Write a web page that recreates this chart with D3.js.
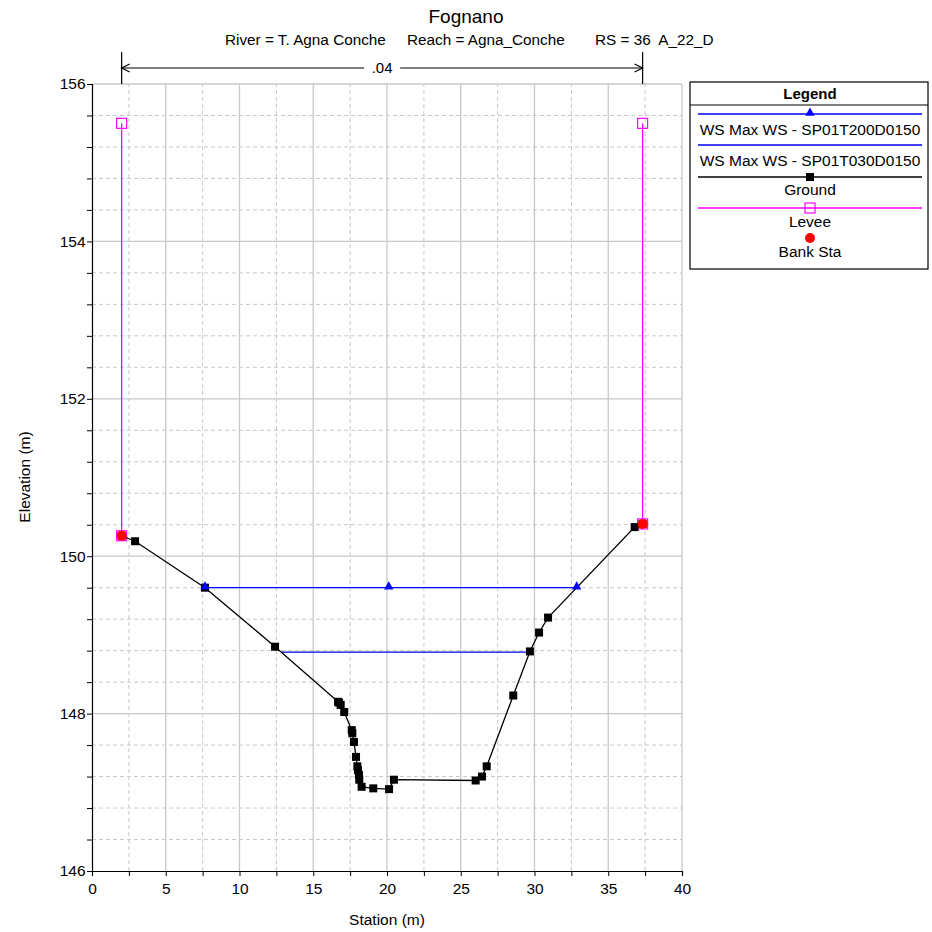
<!DOCTYPE html>
<html><head><meta charset="utf-8">
<script src="https://cdn.jsdelivr.net/npm/d3@7"></script>
<style>body{margin:0;background:#fff}svg{display:block}text{font-family:"Liberation Sans",Arial,sans-serif}</style>
</head><body>
<svg id="c" width="932" height="932"></svg>
<script>
// ---- data ----
const title = "Fognano";
const subtitleParts = ["River = T. Agna Conche", "Reach = Agna_Conche", "RS = 36  A_22_D"];
const manningN = ".04";
const groundStation = [2.01, 2.92, 7.66, 12.41, 16.68, 16.75, 16.86, 17.10, 17.61, 17.65, 17.76, 17.90, 17.99, 18.03, 18.10, 18.12, 18.28, 19.07, 20.14, 20.47, 26.01, 26.44, 26.76, 28.56, 29.69, 30.31, 30.92, 36.79, 37.33];
const groundElev    = [150.26, 150.19, 149.60, 148.85, 148.15, 148.14, 148.11, 148.02, 147.79, 147.75, 147.64, 147.45, 147.33, 147.28, 147.22, 147.16, 147.07, 147.05, 147.04, 147.16, 147.15, 147.20, 147.33, 148.23, 148.79, 149.03, 149.22, 150.37, 150.41];
const leveeLeftStation = [2.01, 2.01];
const leveeLeftElev = [155.50, 150.26];
const leveeRightStation = [37.33, 37.33];
const leveeRightElev = [155.50, 150.41];
const bankStation = [2.01, 37.33];
const bankElev = [150.26, 150.41];
const ws200Station = [7.66, 20.12, 32.86];
const ws200Elev = [149.60, 149.60, 149.60];
const ws030Station = [12.84, 29.69];
const ws030Elev = [148.78, 148.78];
const xTicks = [0, 5, 10, 15, 20, 25, 30, 35, 40];
const yTicks = [146, 148, 150, 152, 154, 156];
const legendItems = ["WS Max WS - SP01T200D0150", "WS Max WS - SP01T030D0150", "Ground", "Levee", "Bank Sta"];

// ---- chart ----
const svg = d3.select("#c");
const x = d3.scaleLinear().domain([0, 40]).range([92, 682]);
const y = d3.scaleLinear().domain([146, 156]).range([871, 84]);
const GRID = "#c8c8c8";

// grid
const g = svg.append("g");
const xMinor = d3.range(0, 40.01, 2.5);
const yMinor = d3.range(146, 156.01, 0.4).map(v => +v.toFixed(2));
xMinor.forEach(v => {
  const major = Math.abs(v % 5) < 1e-6;
  if (v === 0) return;
  g.append("line").attr("x1", x(v)).attr("x2", x(v)).attr("y1", y(146)).attr("y2", y(156))
    .attr("stroke", GRID).attr("stroke-width", major ? 1.3 : 1)
    .attr("stroke-dasharray", major ? null : "4,3");
});
yMinor.forEach(v => {
  const major = Math.abs(v - Math.round(v)) < 1e-6 && Math.round(v) % 2 === 0;
  if (v === 146) return;
  g.append("line").attr("x1", x(0)).attr("x2", x(40)).attr("y1", y(v)).attr("y2", y(v))
    .attr("stroke", GRID).attr("stroke-width", major ? 1.3 : 1)
    .attr("stroke-dasharray", major ? null : "4,3");
});

// axes
const xAxis = d3.axisBottom(x).tickValues(xMinor).tickSize(5).tickFormat(d => xTicks.includes(d) ? d : "");
const yAxis = d3.axisLeft(y).tickValues(yMinor).tickSize(5).tickFormat(d => yTicks.includes(d) ? d : "");
const ax = svg.append("g").attr("transform", `translate(0,${y(146)})`).call(xAxis);
const ay = svg.append("g").attr("transform", `translate(${x(0)},0)`).call(yAxis);
[ax, ay].forEach(a => {
  a.select(".domain").attr("stroke", "#000").attr("stroke-width", 1.2);
  a.selectAll(".tick line").attr("stroke", "#000");
  a.selectAll("text").attr("font-size", 15.5).attr("fill", "#000").attr("font-family", "Liberation Sans, Arial, sans-serif");
});
ax.selectAll("text").attr("dy", "0.95em");
ay.selectAll("text").attr("dx", "0.1em");

// axis titles
svg.append("text").attr("x", 387).attr("y", 925).attr("text-anchor", "middle").attr("font-size", 15.5).text("Station (m)");
svg.append("text").attr("transform", "translate(30,477) rotate(-90)").attr("text-anchor", "middle").attr("font-size", 15.5).text("Elevation (m)");

// titles
svg.append("text").attr("x", 466).attr("y", 23).attr("text-anchor", "middle").attr("font-size", 19).text(title);
const subX = [225, 407, 595];
subtitleParts.forEach((t, i) => svg.append("text").attr("x", subX[i]).attr("y", 45).attr("font-size", 15.3)
  .style("white-space", "pre").text(t));

// n-value annotation
const ann = svg.append("g").attr("stroke", "#000").attr("fill", "none").attr("stroke-width", 1.2);
const xl = x(bankStation[0]), xr = x(bankStation[1]), ya = 68;
ann.append("line").attr("x1", xl).attr("x2", xl).attr("y1", 52).attr("y2", y(156));
ann.append("line").attr("x1", xr).attr("x2", xr).attr("y1", 52).attr("y2", y(156));
const mid = (xl + xr) / 2;
ann.append("line").attr("x1", xl).attr("x2", mid - 18).attr("y1", ya).attr("y2", ya);
ann.append("line").attr("x1", mid + 18).attr("x2", xr).attr("y1", ya).attr("y2", ya);
ann.append("path").attr("d", `M${xl + 8},${ya - 4}L${xl},${ya}L${xl + 8},${ya + 4}`);
ann.append("path").attr("d", `M${xr - 8},${ya - 4}L${xr},${ya}L${xr - 8},${ya + 4}`);
svg.append("text").attr("x", mid).attr("y", ya + 5).attr("text-anchor", "middle").attr("font-size", 15).text(manningN);

// series
const line = d3.line().x(d => x(d[0])).y(d => y(d[1]));
const zip = (a, b) => a.map((v, i) => [v, b[i]]);
const tri = d3.symbol().type(d3.symbolTriangle).size(38);

// levee
[zip(leveeLeftStation, leveeLeftElev), zip(leveeRightStation, leveeRightElev)].forEach(pts => {
  svg.append("path").attr("d", line(pts)).attr("stroke", "#ff00ff").attr("stroke-width", 1.3).attr("fill", "none");
  svg.selectAll(null).data(pts).enter().append("rect")
    .attr("x", d => x(d[0]) - 5).attr("y", d => y(d[1]) - 5).attr("width", 10).attr("height", 10)
    .attr("fill", "none").attr("stroke", "#ff00ff").attr("stroke-width", 1.2);
});

// WS lines
const ws200 = zip(ws200Station, ws200Elev);
const ws030 = zip(ws030Station, ws030Elev);
svg.append("path").attr("d", line(ws030)).attr("stroke", "#0000ff").attr("stroke-width", 1.3).attr("fill", "none");
svg.append("path").attr("d", line(ws200)).attr("stroke", "#0000ff").attr("stroke-width", 1.3).attr("fill", "none");

// ground
const ground = zip(groundStation, groundElev);
svg.append("path").attr("d", line(ground)).attr("stroke", "#000").attr("stroke-width", 1.3).attr("fill", "none");
svg.selectAll(null).data(ground).enter().append("rect")
  .attr("x", d => x(d[0]) - 4).attr("y", d => y(d[1]) - 4).attr("width", 8).attr("height", 8).attr("fill", "#000");

svg.selectAll(null).data(ws200).enter().append("path").attr("d", tri)
  .attr("transform", d => `translate(${x(d[0])},${y(d[1]) - 1})`).attr("fill", "#0000ff");

// bank stations
svg.selectAll(null).data(zip(bankStation, bankElev)).enter().append("circle")
  .attr("cx", d => x(d[0])).attr("cy", d => y(d[1])).attr("r", 5).attr("fill", "#ff0000");

// legend
const L = svg.append("g");
L.append("rect").attr("x", 690).attr("y", 82).attr("width", 238).attr("height", 187).attr("fill", "#fff").attr("stroke", "#000").attr("stroke-width", 1.2);
L.append("line").attr("x1", 690).attr("x2", 928).attr("y1", 105).attr("y2", 105).attr("stroke", "#000").attr("stroke-width", 1.2);
L.append("text").attr("x", 810).attr("y", 99).attr("text-anchor", "middle").attr("font-size", 15).attr("font-weight", "bold").text("Legend");
const lineYs = [114, 145, 177, 208, 238];
const textYs = [135, 166, 195, 227, 257];
const lColors = ["#0000ff", "#0000ff", "#000", "#ff00ff", null];
legendItems.forEach((t, i) => {
  if (lColors[i]) L.append("line").attr("x1", 698).attr("x2", 922).attr("y1", lineYs[i]).attr("y2", lineYs[i]).attr("stroke", lColors[i]).attr("stroke-width", 1.3);
  L.append("text").attr("x", 810).attr("y", textYs[i]).attr("text-anchor", "middle").attr("font-size", 15.5).text(t);
});
L.append("path").attr("d", tri).attr("transform", `translate(810,${lineYs[0] - 1})`).attr("fill", "#0000ff");
L.append("rect").attr("x", 806).attr("y", lineYs[2] - 4).attr("width", 8).attr("height", 8).attr("fill", "#000");
L.append("rect").attr("x", 805).attr("y", lineYs[3] - 5).attr("width", 10).attr("height", 10).attr("fill", "none").attr("stroke", "#ff00ff").attr("stroke-width", 1.2);
L.append("circle").attr("cx", 810).attr("cy", lineYs[4]).attr("r", 5).attr("fill", "#ff0000");
</script>
</body></html>
